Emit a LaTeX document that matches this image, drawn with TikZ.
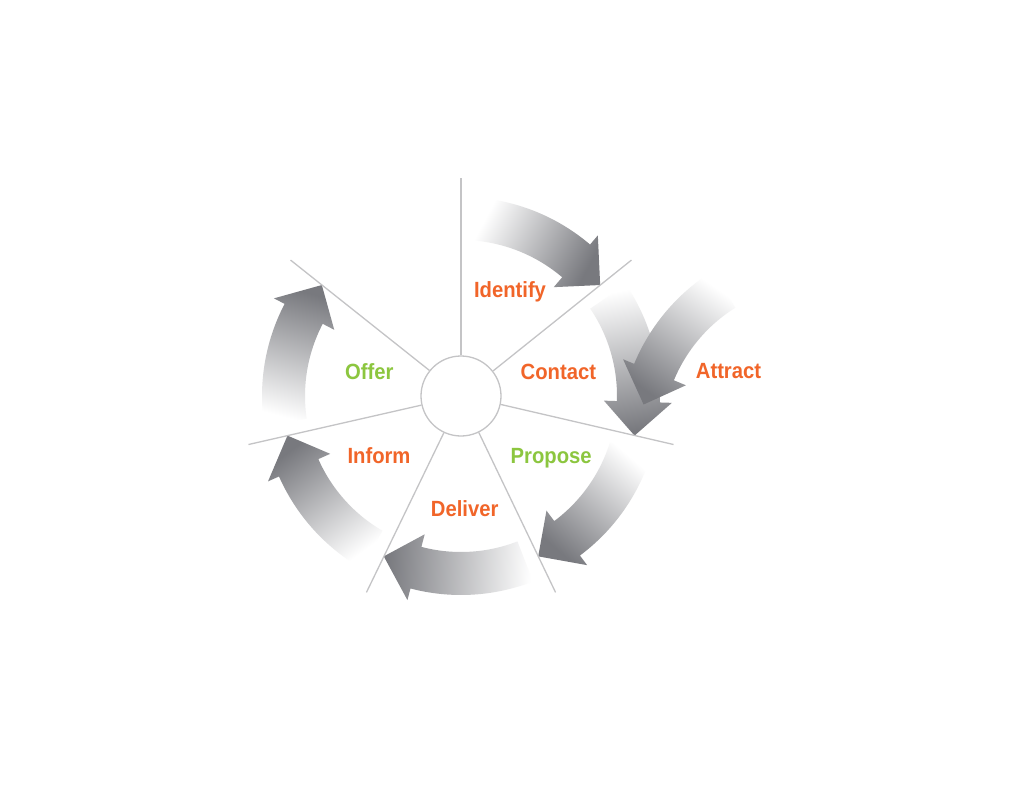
\documentclass[tikz,border=0pt]{standalone}
\usepackage{fontspec}
\newfontfamily\labfont[FakeStretch=0.92]{Liberation Sans}
\definecolor{lborange}{RGB}{241,101,41}
\definecolor{lbgreen}{RGB}{140,198,63}
\definecolor{spokegray}{RGB}{196,196,198}
\definecolor{arrowgray}{RGB}{120,121,126}
\newcommand\ringarrow[5]{% #1 centre, #2 tail angle, #3 head-base angle, #4 tip angle, #5 shading angle
  \shade[top color=white, bottom color=arrowgray, shading angle=#5, shift={#1}]
    (#2:199pt) arc[start angle=#2, end angle=#3, radius=199pt]
    -- (#3:211pt) -- (#4:178pt) -- (#3:143pt) -- (#3:156pt)
    arc[start angle=#3, end angle=#2, radius=156pt] -- cycle;}
\begin{document}
\begin{tikzpicture}[x=1pt,y=1pt,
  spoke/.style={draw=spokegray, line width=1.3pt},
  hubstyle/.style={circle, draw=spokegray, line width=1.3pt, minimum size=80pt, inner sep=0pt, fill=white},
  lab/.style={anchor=base, font=\labfont\bfseries\fontsize{22}{26}\selectfont, inner sep=0pt},
  orangelab/.style={lab, text=lborange},
  greenlab/.style={lab, text=lbgreen}]
\fill[white] (0,0) rectangle (1024,-791);
\useasboundingbox (0,0) rectangle (1024,-791);

% ring arrows (clockwise on screen)
\ringarrow{(461,-396)}{85.5}{49.57}{38.57}{62.04}
\ringarrow{(461,-396)}{34.07}{-1.86}{-12.86}{10.6}
\ringarrow{(461,-396)}{-17.36}{-53.29}{-64.29}{-40.8}
\ringarrow{(461,-396)}{-68.79}{-104.71}{-115.71}{-92.25}
\ringarrow{(461,-396)}{-120.21}{-156.14}{-167.14}{-143.7}
\ringarrow{(461,-396)}{-171.64}{-207.57}{-218.57}{-195.1}
% Attract arrow (counter-clockwise, own centre)
\ringarrow{(818,-440)}{122}{157.5}{168.5}{-34.75}

% hub and spokes
\node[hubstyle] (hub) at (461,-396) {};
\begin{scope}[shift={(461,-396)}]
  \coordinate (s1) at (90:218pt);
  \coordinate (s2) at (38.57:218pt);
  \coordinate (s3) at (-12.86:218pt);
  \coordinate (s4) at (-64.29:218pt);
  \coordinate (s5) at (-115.71:218pt);
  \coordinate (s6) at (-167.14:218pt);
  \coordinate (s7) at (141.43:218pt);
\end{scope}
\draw[spoke] (hub.90) -- (s1);
\draw[spoke] (hub.38.57) -- (s2);
\draw[spoke] (hub.-12.86) -- (s3);
\draw[spoke] (hub.-64.29) -- (s4);
\draw[spoke] (hub.-115.71) -- (s5);
\draw[spoke] (hub.-167.14) -- (s6);
\draw[spoke] (hub.141.43) -- (s7);

% labels
\node[orangelab] (identify) at (510,-297.5) {Identify};
\node[orangelab] (contact) at (558.4,-379) {Contact};
\node[orangelab] (attract) at (728.5,-378) {Attract};
\node[greenlab] (propose) at (551.2,-463.5) {Propose};
\node[orangelab] (deliver) at (464.7,-516.7) {Deliver};
\node[orangelab] (inform) at (379,-463.5) {Inform};
\node[greenlab] (offer) at (369.2,-379) {Offer};
\end{tikzpicture}
\end{document}
